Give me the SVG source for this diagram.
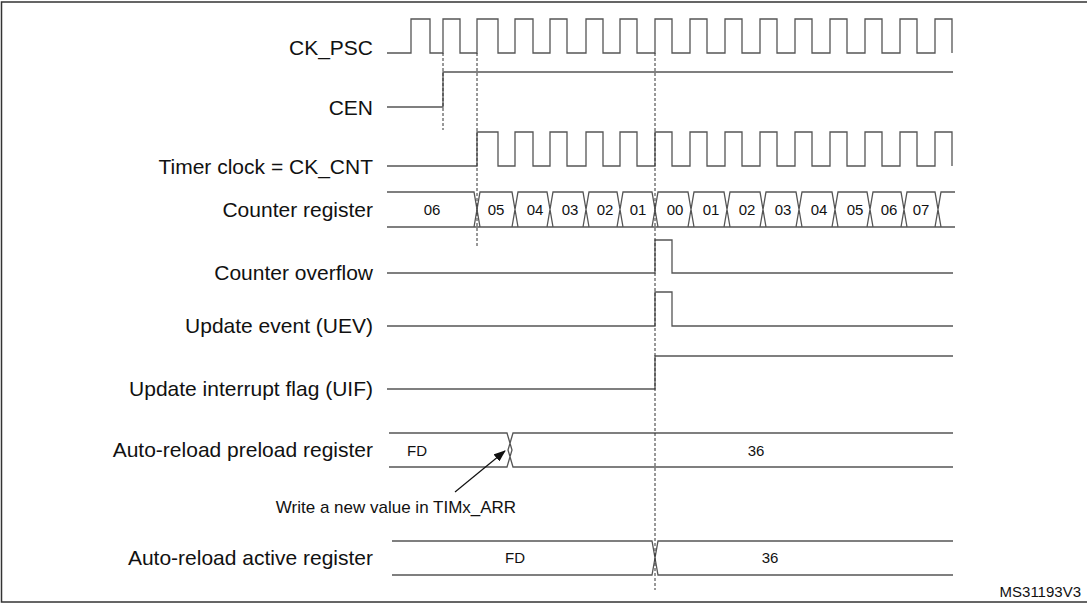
<svg xmlns="http://www.w3.org/2000/svg" width="1087" height="604" viewBox="0 0 1087 604">
<style>
.l{font-family:"Liberation Sans",Arial,sans-serif;font-size:21px;fill:#111;text-anchor:end}
.v{font-family:"Liberation Sans",Arial,sans-serif;font-size:15px;fill:#111;text-anchor:middle}
.w{fill:none;stroke:#555;stroke-width:1.3}
.d{fill:none;stroke:#333;stroke-width:1;stroke-dasharray:3,2}
</style>
<defs><marker id="ah" markerWidth="12" markerHeight="9" refX="11" refY="4.5" orient="auto" markerUnits="userSpaceOnUse"><path d="M0,0 L12,4.5 L0,9 z" fill="#111"/></marker></defs>
<rect x="1.5" y="2" width="1090" height="600" fill="#fff" stroke="#333" stroke-width="1.5"/>
<g id="labels">
<text class="l" x="373" y="55">CK_PSC</text>
<text class="l" x="373" y="115">CEN</text>
<text class="l" x="373" y="174">Timer clock = CK_CNT</text>
<text class="l" x="373" y="217">Counter register</text>
<text class="l" x="373" y="280">Counter overflow</text>
<text class="l" x="373" y="333">Update event (UEV)</text>
<text class="l" x="373" y="396">Update interrupt flag (UIF)</text>
<text class="l" x="373" y="457">Auto-reload preload register</text>
<text class="l" x="373" y="565">Auto-reload active register</text>
<text x="396" y="513" style="font-family:'Liberation Sans',Arial,sans-serif;font-size:17px;fill:#111" text-anchor="middle">Write a new value in TIMx_ARR</text>
<text x="1081" y="597" style="font-family:'Liberation Sans',Arial,sans-serif;font-size:15px;fill:#111" text-anchor="end">MS31193V3</text>
</g>
<g id="waves">
<path id="ckpsc" class="w" d="M387,53 H411 V19 H430 V53 H443 V19 H460 V53 H477 V19 H498 V53 H515 V19 H533 V53 H550 V19 H567 V53 H586 V19 H603 V53 H620 V19 H637 V53 H655 V19 H672 V53 H690 V19 H707 V53 H725 V19 H742 V53 H760 V19 H777 V53 H795 V19 H812 V53 H830 V19 H847 V53 H865 V19 H882 V53 H900 V19 H917 V53 H935 V19 H952 V53"/>
<path id="cen" class="w" d="M387,107 H443 V72 H953" stroke="#222"/>
<path id="ckcnt" class="w" d="M387,166 H477 V132 H498 V166 H515 V132 H533 V166 H550 V132 H567 V166 H586 V132 H603 V166 H620 V132 H637 V166 H655 V132 H672 V166 H690 V132 H707 V166 H725 V132 H742 V166 H760 V132 H777 V166 H795 V132 H812 V166 H830 V132 H847 V166 H865 V132 H882 V166 H900 V132 H917 V166 H935 V132 H952 V166"/>
<g id="counter">
<path class="w" d="M387,192 H474 L480,227 H387 M474,227 L480,192 H512 L518,227 H480 M512,227 L518,192 H547 L553,227 H518 M547,227 L553,192 H583 L589,227 H553 M583,227 L589,192 H617 L623,227 H589 M617,227 L623,192 H652 L658,227 H623 M652,227 L658,192 H688 L694,227 H658 M688,227 L694,192 H724 L730,227 H694 M724,227 L730,192 H760 L766,227 H730 M760,227 L766,192 H796 L802,227 H766 M796,227 L802,192 H832 L838,227 H802 M832,227 L838,192 H867 L873,227 H838 M867,227 L873,192 H901 L907,227 H873 M901,227 L907,192 H935 L941,227 H907 M935,227 L941,192 H955 M941,227 H955"/>
<text class="v" x="432" y="215">06</text>
<text class="v" x="496" y="215">05</text>
<text class="v" x="535" y="215">04</text>
<text class="v" x="570" y="215">03</text>
<text class="v" x="605" y="215">02</text>
<text class="v" x="638" y="215">01</text>
<text class="v" x="675" y="215">00</text>
<text class="v" x="711" y="215">01</text>
<text class="v" x="747" y="215">02</text>
<text class="v" x="783" y="215">03</text>
<text class="v" x="819" y="215">04</text>
<text class="v" x="855" y="215">05</text>
<text class="v" x="889" y="215">06</text>
<text class="v" x="921" y="215">07</text>
</g>
<path id="ovf" class="w" d="M387,273 H655 V240 H672 V273 H953"/>
<path id="uev" class="w" d="M387,326 H655 V292 H672 V326 H953"/>
<path id="uif" class="w" d="M387,389 H655 V356 H953"/>
<g id="arpre">
<path class="w" d="M389,433 H507 L512,450 L507,467 H389 M953,433 H513 L508,450 L513,467 H953"/>
<text class="v" x="417" y="456">FD</text>
<text class="v" x="756" y="456">36</text>
</g>
<g id="aract">
<path class="w" d="M392,541 H652 L655,558 L652,575 H392 M953,541 H658 L655,558 L658,575 H953"/>
<text class="v" x="515" y="563">FD</text>
<text class="v" x="770" y="563">36</text>
</g>
</g>
<g id="connectors">
<line class="d" x1="443" y1="53" x2="443" y2="130"/>
<line class="d" x1="477" y1="53" x2="477" y2="247"/>
<line class="d" x1="655" y1="53" x2="655" y2="590"/>
<line x1="455" y1="492" x2="505" y2="451" stroke="#111" stroke-width="1.2" marker-end="url(#ah)"/>
</g>
</svg>
